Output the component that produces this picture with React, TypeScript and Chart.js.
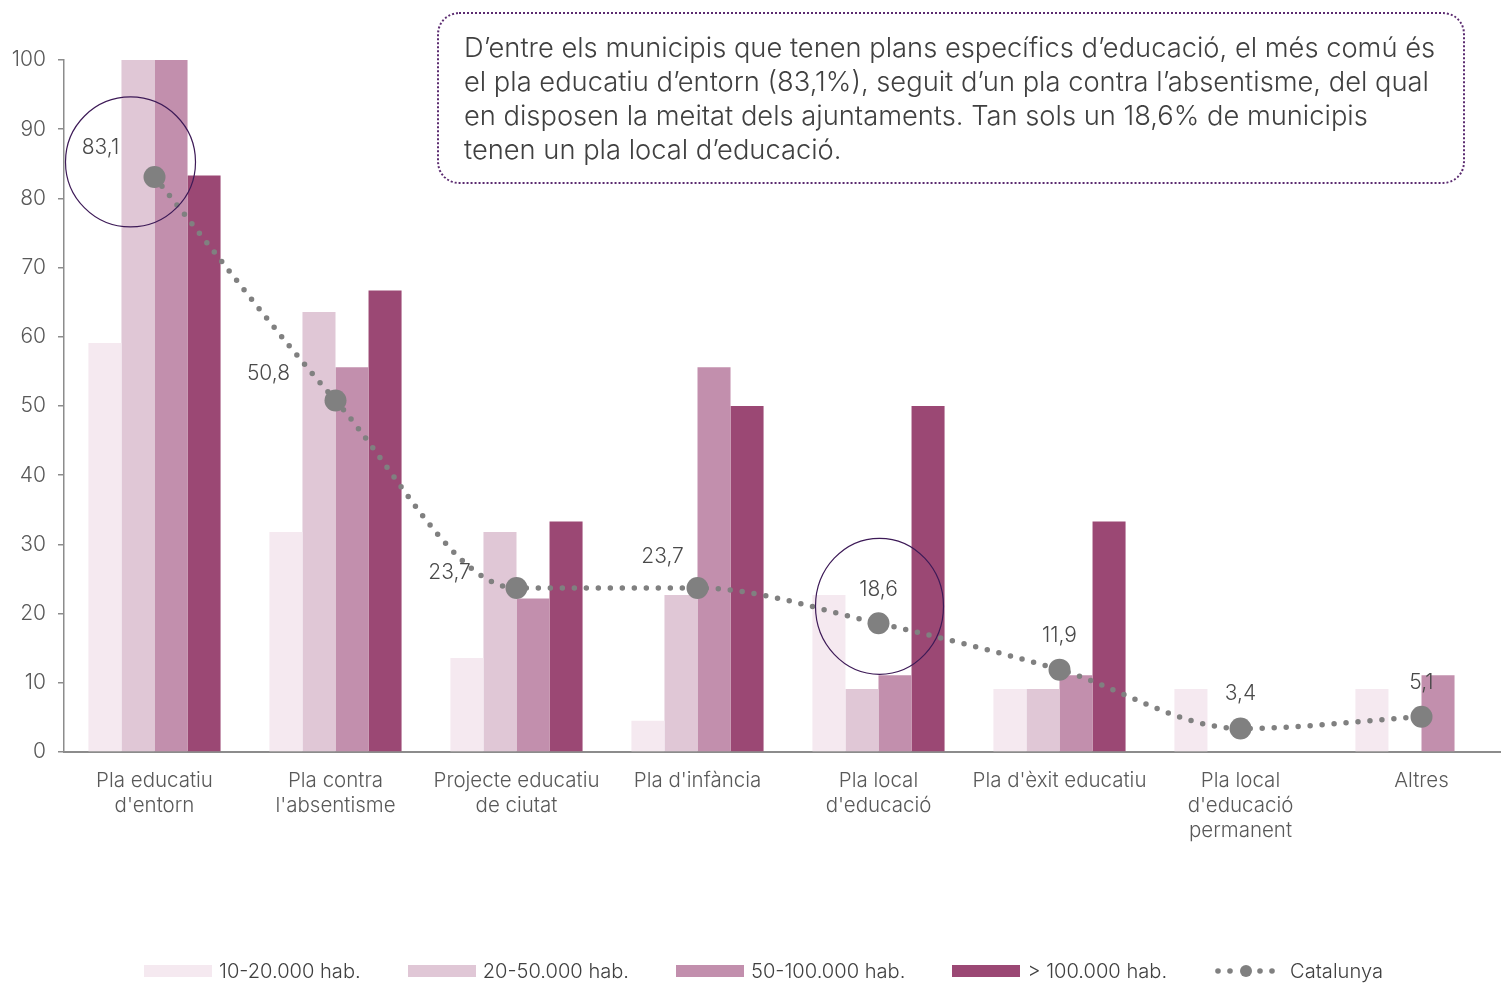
import React, { useEffect, useRef } from 'react';
import { Chart, registerables } from 'chart.js';

Chart.register(...registerables);

const categories: string[][] = [
  ['Pla educatiu', "d'entorn"],
  ['Pla contra', "l'absentisme"],
  ['Projecte educatiu', 'de ciutat'],
  ["Pla d'infància"],
  ['Pla local', "d'educació"],
  ["Pla d'èxit educatiu"],
  ['Pla local', "d'educació", 'permanent'],
  ['Altres'],
];
const seriesNames = ['10-20.000 hab.', '20-50.000 hab.', '50-100.000 hab.', '> 100.000 hab.'];
const lineName = 'Catalunya';
const pop10to20 = [59.1, 31.8, 13.6, 4.5, 22.7, 9.1, 9.1, 9.1];
const pop20to50 = [100, 63.6, 31.8, 22.7, 9.1, 9.1, 0, 0];
const pop50to100 = [100, 55.6, 22.2, 55.6, 11.1, 11.1, 0, 11.1];
const popOver100 = [83.3, 66.7, 33.3, 50, 50, 33.3, 0, 0];
const catalunya = [83.1, 50.8, 23.7, 23.7, 18.6, 11.9, 3.4, 5.1];
const yTicks = [0, 10, 20, 30, 40, 50, 60, 70, 80, 90, 100];
const highlighted = [0, 4];
const noteLines = [
  'D’entre els municipis que tenen plans específics d’educació, el més comú és',
  'el pla educatiu d’entorn (83,1%), seguit d’un pla contra l’absentisme, del qual',
  'en disposen la meitat dels ajuntaments. Tan sols un 18,6% de municipis',
  'tenen un pla local d’educació.',
];

const barColors = ['#F5E9F0', '#E0C7D6', '#C28FAD', '#9B4874'];
const lineColor = '#808080';
const textColor = '#4a4a4a';
const FONT = 'Inter, Roboto, "Liberation Sans", sans-serif';
const PLOT_RIGHT = 1512;

// label offsets relative to each Catalunya point (px)
const labelOffsets: [number, number][] = [
  [-54, -29], [-67, -27], [-67, -15], [-35, -31], [0, -34], [0, -34], [0, -35], [0, -34],
];
// ellipse offsets/radii relative to highlighted points
const ellipseShapes: [number, number, number, number][] = [
  [-24, -15, 65, 65],
  [1, -17, 64, 68],
];

const fmt = (v: number) => v.toFixed(1).replace('.', ',');

const stretchPlugin = {
  id: 'stretch',
  afterLayout(chart: any) {
    const x = chart.scales.x;
    x.right = PLOT_RIGHT;
    x.width = PLOT_RIGHT - x.left;
    x.configure();
    chart.chartArea.right = PLOT_RIGHT;
    chart.chartArea.width = PLOT_RIGHT - chart.chartArea.left;
  },
};

const overlayPlugin = {
  id: 'overlay',
  afterDatasetsDraw(chart: any) {
    const ctx = chart.ctx;
    const meta = chart.getDatasetMeta(4);
    ctx.save();
    ctx.font = `300 21px ${FONT}`;
    ctx.fillStyle = textColor;
    ctx.textAlign = 'center';
    ctx.textBaseline = 'middle';
    meta.data.forEach((pt: any, i: number) => {
      const [dx, dy] = labelOffsets[i];
      ctx.fillText(fmt(catalunya[i]), pt.x + dx, pt.y + dy);
    });
    ctx.strokeStyle = '#3d1a57';
    ctx.lineWidth = 1.2;
    highlighted.forEach((idx, k) => {
      const pt = meta.data[idx];
      const [dx, dy, rx, ry] = ellipseShapes[k];
      ctx.beginPath();
      ctx.ellipse(pt.x + dx, pt.y + dy, rx, ry, 0, 0, Math.PI * 2);
      ctx.stroke();
    });
    ctx.restore();
  },
};

export default function App() {
  const ref = useRef<HTMLCanvasElement | null>(null);
  useEffect(() => {
    if (!ref.current) return;
    const barSets = [pop10to20, pop20to50, pop50to100, popOver100].map((d, i) => ({
      type: 'bar' as const,
      label: seriesNames[i],
      data: d,
      backgroundColor: barColors[i],
      borderWidth: 0,
      barPercentage: 1,
      categoryPercentage: 0.73,
      order: 2,
    }));
    const chart = new Chart(ref.current, {
      type: 'bar',
      data: {
        labels: categories,
        datasets: [
          ...barSets,
          {
            type: 'line' as const,
            label: lineName,
            data: catalunya,
            borderColor: lineColor,
            backgroundColor: lineColor,
            borderWidth: 5.5,
            borderDash: [0, 12],
            borderCapStyle: 'round',
            cubicInterpolationMode: 'monotone',
            pointRadius: 11,
            pointBackgroundColor: lineColor,
            pointBorderWidth: 0,
            order: 0,
            clip: false,
          } as any,
        ],
      },
      options: {
        responsive: false,
        animation: false,
        layout: { padding: { top: 60, left: 0, right: 0, bottom: 0 } },
        plugins: { legend: { display: false }, tooltip: { enabled: false } },
        scales: {
          x: {
            grid: { display: false, drawTicks: false },
            border: { display: true, color: '#8c8c8c', width: 2 },
            ticks: {
              color: '#595959',
              font: { family: FONT, size: 20.5, weight: '300', lineHeight: '25px' },
              padding: 16,
              maxRotation: 0,
              autoSkip: false,
            },
            afterFit(scale: any) {
              scale.height = 231;
            },
          },
          y: {
            min: 0,
            max: 100,
            afterBuildTicks(scale: any) {
              scale.ticks = yTicks.map((v) => ({ value: v }));
            },
            grid: {
              display: true,
              drawOnChartArea: false,
              drawTicks: true,
              tickLength: 6,
              color: '#8c8c8c',
              lineWidth: 1.5,
            },
            border: { display: true, color: '#8c8c8c', width: 1.5 },
            ticks: {
              color: '#595959',
              font: { family: FONT, size: 21, weight: '300' },
              padding: 12,
            },
            afterFit(scale: any) {
              scale.width = 64;
            },
          },
        },
      } as any,
      plugins: [stretchPlugin, overlayPlugin],
    });
    return () => chart.destroy();
  }, []);

  const legendItems = [...seriesNames, lineName];
  return (
    <div style={{ position: 'absolute', left: 0, top: 0, width: 1501, height: 983, overflow: 'hidden', background: '#fff' }}>
      <div style={{ position: 'absolute', left: 0, top: 0, width: 1512, height: 983 }}>
        <canvas ref={ref} width={1512} height={983} style={{ width: 1512, height: 983, display: 'block' }} />
      </div>
      <div
        style={{
          position: 'absolute',
          left: 437,
          top: 12,
          width: 1028,
          height: 172,
          boxSizing: 'border-box',
          border: '2px dotted #5b2b70',
          borderRadius: 22,
          padding: '17px 0 0 25px',
          fontFamily: FONT,
          fontWeight: 300,
          fontSize: 27.3,
          lineHeight: '34px',
          color: '#404040',
          whiteSpace: 'nowrap',
        }}
      >
        {noteLines.map((l, i) => (
          <div key={i}>{l}</div>
        ))}
      </div>
      <div
        style={{
          position: 'absolute',
          left: 144,
          top: 958,
          display: 'flex',
          alignItems: 'center',
          fontFamily: FONT,
          fontWeight: 300,
          fontSize: 20.1,
          color: '#404040',
          whiteSpace: 'nowrap',
          height: 26,
        }}
      >
        {legendItems.map((name, i) => (
          <div key={name} style={{ display: 'flex', alignItems: 'center', marginRight: 47 }}>
            {i < 4 ? (
              <div style={{ width: 68, height: 12, background: barColors[i], marginRight: 7 }} />
            ) : (
              <svg width={68} height={14} style={{ marginRight: 8 }}>
                {[4, 16, 46, 58].map((cx) => (
                  <circle key={cx} cx={cx} cy={7} r={2.8} fill={lineColor} />
                ))}
                <circle cx={32} cy={7} r={6} fill={lineColor} />
              </svg>
            )}
            <span>{name}</span>
          </div>
        ))}
      </div>
    </div>
  );
}
